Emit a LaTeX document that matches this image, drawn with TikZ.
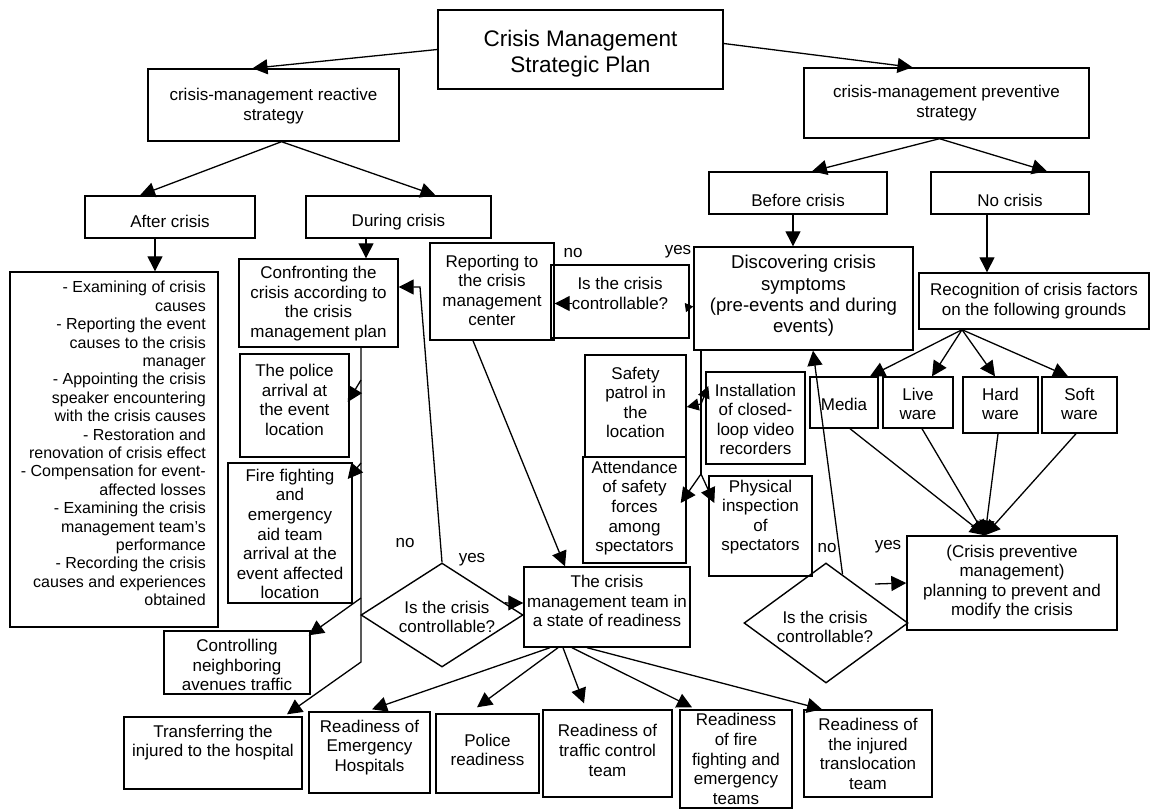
\documentclass[tikz,border=0pt]{standalone}
\usepackage{fontspec}
\setmainfont{Liberation Sans}
\usetikzlibrary{shapes.geometric,arrows.meta,calc}

\tikzset{
 box/.style={draw, line width=1.4pt, inner sep=0pt, rectangle},
 txt/.style={align=center, inner sep=0pt, font=\fontsize{17}{19.6}\selectfont},
 arr/.style={-{Triangle[length=15pt,width=15pt]}, line width=1.3pt},
 sarr/.style={-{Triangle[length=12pt,width=12pt]}, line width=1.3pt},
 tarr/.style={-{Triangle[length=8pt,width=9pt]}, line width=1.3pt},
 ln/.style={line width=1.3pt},
 lbl/.style={inner sep=0pt, font=\fontsize{17}{19.6}\selectfont},
 dia/.style={draw, diamond, line width=1.4pt, inner sep=0pt},
}

\newcommand{\mybox}[8][]{%
 \node[box, minimum width={(#5)-(#3)}, minimum height={(#6)-(#4)}] (#2) at ({((#3)+(#5))/2},{((#4)+(#6))/2}) {};
 \node[txt,#1] (#2-t) at ({((#3)+(#5))/2},#7) {#8};}

\begin{document}
\begin{tikzpicture}[x=1pt,y=-1pt]
\useasboundingbox (0,0) rectangle (1150,809);

% boxes
\mybox[font=\fontsize{22.5}{26}\selectfont]{title}{438}{10}{723}{89}{54}{Crisis Management\\Strategic Plan}
\mybox{react}{148}{69}{399}{141}{106}{crisis-management reactive\\strategy}
\mybox{prev}{804}{68}{1089}{138}{103}{crisis-management preventive\\strategy}
\mybox{after}{85}{196}{255}{238}{221}{After crisis}
\mybox{during}{306}{196}{491}{238}{222}{During crisis}
\mybox{before}{709}{172}{887}{214}{200}{Before crisis}
\mybox{nocr}{931}{172}{1089}{214}{200}{No crisis}

\node[box, minimum width=208, minimum height=355] (big) at (114,449.5) {};
\node[txt, align=right, anchor=east, font=\fontsize{16}{18.4}\selectfont] (big-t) at (206,443.5) {- Examining of crisis\\causes\\- Reporting the event\\causes to the crisis\\manager\\- Appointing the crisis\\speaker encountering\\with the crisis causes\hspace*{4pt}\\- Restoration and\\renovation of crisis effect\\- Compensation for event-\\affected losses\\- Examining the crisis\\management team's\\performance\\- Recording the crisis\\causes and experiences\\obtained};

\mybox{conf}{239}{259}{398}{347}{303.5}{Confronting the\\crisis according to\\the crisis\\management plan}
\mybox{police}{240}{354}{349}{457}{400}{The police\\arrival at\\the event\\location}
\mybox{fire}{228}{463}{352}{603}{534}{Fire fighting\\and\\emergency\\aid team\\arrival at the\\event affected\\location}
\mybox{ctrl}{164}{631}{310}{694}{665}{Controlling\\neighboring\\avenues traffic}
\mybox{transf}{124}{717}{302}{789}{742.5}{Transferring the\\injured to the hospital}
\mybox{report}{430}{243}{554}{340}{290.5}{Reporting to\\the crisis\\management\\center}
\mybox{q1}{551}{265}{689}{338}{293.5}{Is the crisis\\controllable?}
\mybox[font=\fontsize{18.6}{21.3}\selectfont]{disc}{694}{247}{913}{350}{296}{Discovering crisis\\symptoms\\(pre-events and during\\events)}
\mybox{recog}{919}{273}{1149}{329}{301}{Recognition of crisis factors\\on the following grounds}
\mybox{media}{810}{377}{878}{428}{404}{Media}
\mybox{live}{883}{377}{953}{428}{404}{Live\\ware}
\mybox{hard}{963}{377}{1038}{433}{404}{Hard\\ware}
\mybox{soft}{1042}{377}{1117}{433}{404}{Soft\\ware}
\mybox{safety}{585}{355}{686}{457}{402.5}{Safety\\patrol in\\the\\location}
\mybox{attend}{583}{457}{686}{563}{508}{Attendance\\of safety\\forces\\among\\spectators}
\mybox{install}{706}{372}{805}{464}{419.5}{Installation\\of closed-\\loop video\\recorders}
\mybox{phys}{709}{476}{812}{576}{517}{Physical\\inspection\\of\\spectators}
\mybox{ready}{524}{567}{690}{647}{601}{The crisis\\management team in\\a state of readiness}
\mybox{plan}{907}{536}{1117}{630}{582}{(Crisis preventive\\management)\\planning to prevent and\\modify the crisis}
\mybox{hosp}{309}{712}{430}{793}{747.5}{Readiness of\\Emergency\\Hospitals}
\mybox{polr}{436}{714}{539}{793}{750}{Police\\readiness}
\mybox{traffic}{543}{710}{672}{797}{750.5}{Readiness of\\traffic control\\team}
\mybox{fteams}{680}{710}{792}{808}{759}{Readiness\\of fire\\fighting and\\emergency\\teams}
\mybox{injured}{804}{710}{932}{797}{754}{Readiness of\\the injured\\translocation\\team}

% diamonds
\node[dia, minimum width=162, minimum height=104] (d1) at (442,615) {};
\node[txt] (d1-t) at (447,617) {Is the crisis\\controllable?};
\node[dia, minimum width=164, minimum height=120] (d2) at (826,623) {};
\node[txt] (d2-t) at (825,627) {Is the crisis\\controllable?};

% labels
\node[lbl] (no1) at (405,543) {no};
\node[lbl] (yes1) at (472,560) {yes};
\node[lbl] (no2) at (573,253) {no};
\node[lbl] (yes2) at (678,252) {yes};
\node[lbl] (no3) at (827,548) {no};
\node[lbl] (yes3) at (888,547) {yes};

% helper coordinates
\coordinate (k1) at (701,404);
\coordinate (br1) at (701,474);
\coordinate (k2) at (420,287);
\coordinate (k3) at (361,662);
\coordinate (k4) at (361,380);
\coordinate (k5) at (361,463);
\coordinate (k6) at (361,598);
\coordinate (y2s) at (875,584);

% top level connectors
\draw[arr] (title.west) -- ([xshift=-21]react.north);
\draw[arr] ([yshift=6]title.east) -- ([xshift=-34]prev.north);
\draw[arr] ([xshift=8]react.south) -- ([xshift=-30]after.north);
\draw[arr] ([xshift=8]react.south) -- ([xshift=37]during.north);
\draw[arr] ([xshift=-7]prev.south) -- ([xshift=14]before.north);
\draw[arr] ([xshift=-7]prev.south) -- ([xshift=37]nocr.north);
\draw[arr] ([xshift=-15]after.south) -- ([xshift=41]big.north);
\draw[arr] ([xshift=-32.5]during.south) -- ([xshift=47.5]conf.north);
\draw[arr] ([xshift=-5]before.south) -- ([xshift=-10.5]disc.north);
\draw[arr] ([xshift=-23]nocr.south) -- ([xshift=-47]recog.north);

% recognition fan
\draw[arr] ([xshift=-72]recog.south) -- ([xshift=26]media.north);
\draw[arr] ([xshift=-72]recog.south) -- ([xshift=14]live.north);
\draw[arr] ([xshift=-72]recog.south) -- ([xshift=-5.5]hard.north);
\draw[arr] ([xshift=-72]recog.south) -- ([xshift=-11.5]soft.north);
\draw[arr] ([xshift=6]media.south) -- ([xshift=-27]plan.north);
\draw[arr] ([xshift=4]live.south) -- ([xshift=-27]plan.north);
\draw[arr] ([xshift=-2.5]hard.south) -- ([xshift=-27]plan.north);
\draw[arr] ([xshift=-3.5]soft.south) -- ([xshift=-27]plan.north);

% discovering branch
\draw[ln] ([xshift=-102.5]disc.south) -- (br1);
\draw[sarr] (k1) -- ([yshift=-1]safety.east);
\draw[sarr] (k1) -- ([xshift=3,yshift=32]install.west);
\draw[arr] (br1) -- ([xshift=-6,yshift=7]attend.east);
\draw[arr] (br1) -- ([xshift=6,yshift=23]phys.west);

% second decision
\draw[arr] ($(d2.north)!0.2!(d2.east)$) -- ([xshift=9.5]disc.south);
\draw[arr] (y2s) -- (plan.west);

% first decision
\draw[arr] (d1.north) -- (k2) -- ([yshift=16]conf.east);
\draw[arr] ($(d1.north)!0.77!(d1.east)$) -- ([yshift=4]ready.west);
\draw[arr] ([xshift=-19]report.south) -- ([xshift=-42]ready.north);
\draw[arr] ([xshift=22,yshift=-2]q1.west) -- ([yshift=-12]report.east);
\draw[tarr] ([xshift=-4,yshift=-6]q1.east) -- ([yshift=-8]disc.west);

% left column
\draw[arr] ([xshift=42.5]conf.south) -- (k3) -- ([xshift=74,yshift=2]transf.north);
\draw[arr] (k4) -- ([xshift=-2,yshift=3.5]police.east);
\draw[arr] (k5) -- ([xshift=-5,yshift=54]fire.east);
\draw[arr] (k6) -- ([xshift=-2,yshift=-5]ctrl.north east);

% readiness fan
\draw[arr] ([xshift=-57]ready.south) -- ([xshift=2.5,yshift=2]hosp.north);
\draw[arr] ([xshift=-49]ready.south) -- ([xshift=-10.5,yshift=6]polr.north);
\draw[arr] ([xshift=-44]ready.south) -- ([xshift=-23.5,yshift=6]traffic.north);
\draw[arr] ([xshift=-35]ready.south) -- ([xshift=-44,yshift=2]fteams.north);
\draw[arr] ([xshift=-20]ready.south) -- ([xshift=-46]injured.north);
\end{tikzpicture}
\end{document}
